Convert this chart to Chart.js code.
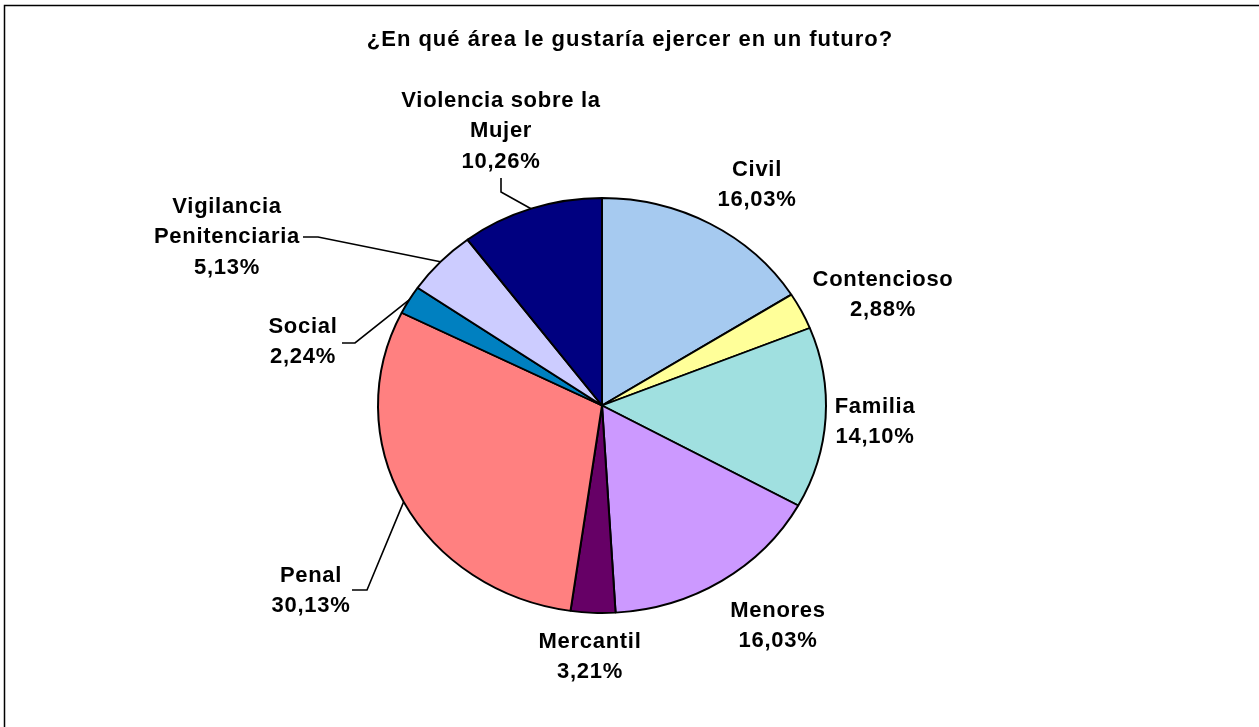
<!DOCTYPE html>
<html>
<head>
<meta charset="utf-8">
<title>¿En qué área le gustaría ejercer en un futuro?</title>
<script src="https://cdn.jsdelivr.net/npm/chart.js@4.4.1/dist/chart.umd.min.js"></script>
<style>
  html, body { margin: 0; padding: 0; background: #fff; }
  canvas { display: block; }
</style>
</head>
<body>
<canvas id="area-pie" width="1259" height="727"></canvas>
<script>
// Data
const chartTitle = '¿En qué área le gustaría ejercer en un futuro?';
const categories = ['Civil', 'Contencioso', 'Familia', 'Menores', 'Mercantil', 'Penal', 'Social',
  'Vigilancia Penitenciaria', 'Violencia sobre la Mujer'];
const percentages = [16.03, 2.88, 14.10, 16.03, 3.21, 30.13, 2.24, 5.13, 10.26];
const sliceColors = ['#A6CAF0', '#FFFF99', '#A0E0E0', '#CC99FF', '#660066', '#FF8080', '#0080C0',
  '#CCCCFF', '#000080'];

// Layout: label centres relative to the pie centre, and leader line bends (relative to label centre)
const labelOffsets = [[155, -220.5], [281, -110.5], [273, 16.5], [176, 220.5], [-12, 251.5],
  [-291, 185.5], [-299, -63.5], [-375, -168.5], [-101, -274.5]];
const leaders = {
  5: [[41, -1], [56, -1]],
  6: [[39, 1], [52, 1]],
  7: [[76, 0], [91, 0]],
  8: [[0, 47], [0, 61]]
};

const FONT = '"Liberation Sans", Arial, sans-serif';
const PIE_RADIUS = 224;
const SQUASH = 207.5 / 224; // the original pie is slightly wider than tall
const LINE_GAP = 30.5;

function formatPct(v) {
  return v.toFixed(2).replace('.', ',') + '%';
}

// Split a category into lines no wider than maxWidth
function wrapLabel(ctx, text, maxWidth) {
  const words = text.split(' ');
  const lines = [];
  let line = '';
  words.forEach(w => {
    const test = line ? line + ' ' + w : w;
    if (line && ctx.measureText(test).width > maxWidth) {
      lines.push(line);
      line = w;
    } else {
      line = test;
    }
  });
  if (line) lines.push(line);
  return lines;
}

// White background, outer frame and title
const frameAndTitle = {
  id: 'frameAndTitle',
  beforeDraw(chart) {
    const ctx = chart.ctx;
    ctx.save();
    ctx.fillStyle = '#fff';
    ctx.fillRect(0, 0, chart.width, chart.height);
    ctx.restore();
  },
  afterDraw(chart) {
    const ctx = chart.ctx;
    ctx.save();
    ctx.strokeStyle = '#000';
    ctx.lineWidth = 1.5;
    ctx.strokeRect(4.5, 5.5, chart.width + 10, chart.height + 10);
    ctx.font = 'bold 22px ' + FONT;
    ctx.letterSpacing = '1px';
    ctx.fillStyle = '#000';
    ctx.textAlign = 'center';
    ctx.textBaseline = 'middle';
    ctx.fillText(chartTitle, 630, 40);
    ctx.restore();
  }
};

// Squash the pie vertically around its centre
const ellipsePie = {
  id: 'ellipsePie',
  beforeDatasetsDraw(chart) {
    const arc = chart.getDatasetMeta(0).data[0];
    const ctx = chart.ctx;
    ctx.save();
    ctx.translate(0, arc.y);
    ctx.scale(1, SQUASH);
    ctx.translate(0, -arc.y);
  },
  afterDatasetsDraw(chart) {
    chart.ctx.restore();
  }
};

// Outside labels with leader lines
const sliceLabels = {
  id: 'sliceLabels',
  afterDatasetsDraw(chart) {
    const ctx = chart.ctx;
    const meta = chart.getDatasetMeta(0);
    ctx.save();
    ctx.font = 'bold 22px ' + FONT;
    ctx.letterSpacing = '0.7px';
    ctx.fillStyle = '#000';
    ctx.strokeStyle = '#000';
    ctx.lineWidth = 1.6;
    ctx.textAlign = 'center';
    ctx.textBaseline = 'middle';
    meta.data.forEach((arc, i) => {
      const cx = arc.x + labelOffsets[i][0];
      const cy = arc.y + labelOffsets[i][1];
      const lines = wrapLabel(ctx, categories[i], 210).concat([formatPct(percentages[i])]);
      const top = cy - (lines.length - 1) * LINE_GAP / 2;
      lines.forEach((t, k) => ctx.fillText(t, cx, top + k * LINE_GAP));

      const lead = leaders[i];
      if (lead) {
        const mid = (arc.startAngle + arc.endAngle) / 2;
        const ex = arc.x + Math.cos(mid) * arc.outerRadius;
        const ey = arc.y + Math.sin(mid) * arc.outerRadius * SQUASH;
        ctx.beginPath();
        ctx.moveTo(cx + lead[0][0], cy + lead[0][1]);
        ctx.lineTo(cx + lead[1][0], cy + lead[1][1]);
        ctx.lineTo(ex, ey);
        ctx.stroke();
      }
    });
    ctx.restore();
  }
};

const ctx = document.getElementById('area-pie').getContext('2d');
const areaChart = new Chart(ctx, {
  type: 'pie',
  data: {
    labels: categories,
    datasets: [{
      data: percentages,
      backgroundColor: sliceColors,
      borderColor: '#000',
      borderWidth: 2
    }]
  },
  options: {
    responsive: false,
    animation: false,
    radius: PIE_RADIUS,
    layout: { padding: { left: 0, right: 55, top: 84, bottom: 0 } },
    plugins: {
      legend: { display: false },
      title: { display: false },
      tooltip: { enabled: false }
    }
  },
  plugins: [frameAndTitle, ellipsePie, sliceLabels]
});
</script>
</body>
</html>
